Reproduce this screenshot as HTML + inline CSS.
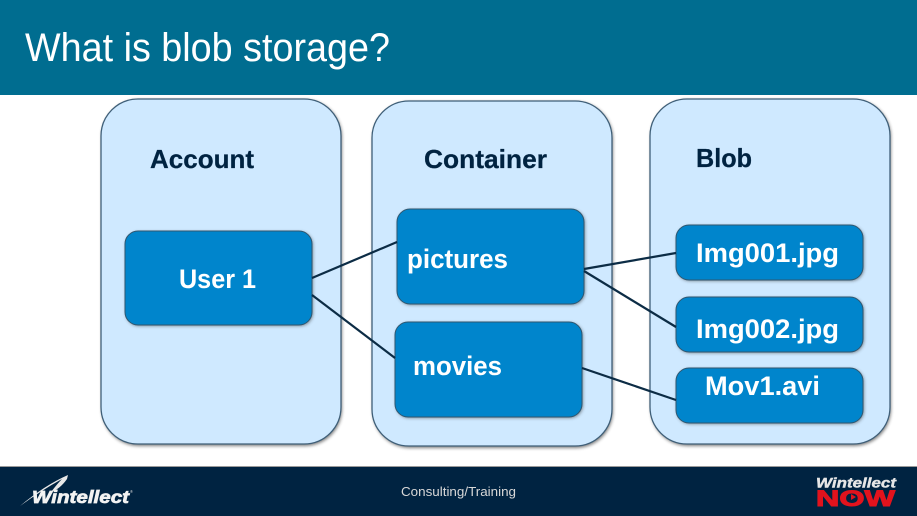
<!DOCTYPE html>
<html>
<head>
<meta charset="utf-8">
<style>
html,body{margin:0;padding:0;background:#fff;width:917px;height:516px;overflow:hidden}
svg{display:block}
text{font-family:"Liberation Sans",sans-serif}
.h{font-size:26px;font-weight:bold;fill:#002341;stroke:#002341;stroke-width:.25}
.w{font-size:27px;font-weight:bold;fill:#fff}
</style>
</head>
<body>
<svg width="917" height="516" viewBox="0 0 917 516" xmlns="http://www.w3.org/2000/svg">
<defs>
<filter id="s" x="-10%" y="-10%" width="120%" height="120%">
<feGaussianBlur stdDeviation="1.5"/>
</filter>
</defs>
<rect width="917" height="516" fill="#fff"/>
<rect x="0" y="0" width="917" height="95" fill="#006d90"/>
<text x="25" y="61" font-size="40" fill="#fff" textLength="365" lengthAdjust="spacingAndGlyphs">What is blob storage?</text>

<!-- shadows -->
<g fill="#444" opacity=".7" filter="url(#s)">
<rect x="102" y="100" width="240" height="346" rx="37"/>
<rect x="373" y="102" width="240" height="346" rx="37"/>
<rect x="651" y="100" width="240" height="346" rx="37"/>
</g>
<!-- panels -->
<g fill="#cfe9ff" stroke="#3f5f78" stroke-width="1.3">
<rect x="101" y="99" width="240" height="345" rx="37"/>
<rect x="372" y="101" width="240" height="345" rx="37"/>
<rect x="650" y="99" width="240" height="345" rx="37"/>
</g>

<text class="h" x="150" y="168" textLength="104" lengthAdjust="spacingAndGlyphs">Account</text>
<text class="h" x="424" y="168" textLength="123" lengthAdjust="spacingAndGlyphs">Container</text>
<text class="h" x="696" y="167" textLength="56" lengthAdjust="spacingAndGlyphs">Blob</text>

<!-- box shadows -->
<g fill="#333" opacity=".55" filter="url(#s)">
<rect x="126" y="232" width="187" height="94" rx="13"/>
<rect x="398" y="210" width="187" height="95" rx="13"/>
<rect x="396" y="323" width="187" height="95" rx="13"/>
<rect x="677" y="226" width="187" height="55" rx="13"/>
<rect x="677" y="298" width="187" height="55" rx="13"/>
<rect x="677" y="369" width="187" height="55" rx="13"/>
</g>
<!-- boxes -->
<g fill="#0085cc" stroke="#2f566f" stroke-width="1">
<rect x="125" y="231" width="187" height="94" rx="13"/>
<rect x="397" y="209" width="187" height="95" rx="13"/>
<rect x="395" y="322" width="187" height="95" rx="13"/>
<rect x="676" y="225" width="187" height="55" rx="13"/>
<rect x="676" y="297" width="187" height="55" rx="13"/>
<rect x="676" y="368" width="187" height="55" rx="13"/>
</g>

<!-- connectors -->
<g stroke="#0c2c45" stroke-width="2.2" fill="none">
<line x1="312" y1="278" x2="397" y2="242"/>
<line x1="312" y1="295" x2="395" y2="358"/>
<line x1="584" y1="269" x2="676" y2="253"/>
<line x1="584" y1="271" x2="676" y2="327"/>
<line x1="582" y1="368" x2="676" y2="400"/>
</g>

<text class="w" x="179" y="288" textLength="77" lengthAdjust="spacingAndGlyphs">User 1</text>
<text class="w" x="407" y="268" textLength="101" lengthAdjust="spacingAndGlyphs">pictures</text>
<text class="w" x="413" y="375" textLength="89" lengthAdjust="spacingAndGlyphs">movies</text>
<text class="w" x="696" y="262" textLength="143" lengthAdjust="spacingAndGlyphs">Img001.jpg</text>
<text class="w" x="696" y="338" textLength="143" lengthAdjust="spacingAndGlyphs">Img002.jpg</text>
<text class="w" x="705" y="395" textLength="115" lengthAdjust="spacingAndGlyphs">Mov1.avi</text>

<!-- footer -->
<rect x="0" y="466" width="917" height="1.5" fill="#9a9a9a"/>
<rect x="0" y="467" width="917" height="49" fill="#002341"/>
<text x="401" y="496" font-size="12.5" fill="#d8d8d8" textLength="115" lengthAdjust="spacingAndGlyphs">Consulting/Training</text>

<!-- Wintellect logo -->
<path d="M20 506 Q45 485 68 475 L67 479 Q60 489 51 492 Q58 483 62 479 Q42 490 20 506Z" fill="#e8e8e8"/>
<text x="32" y="503" font-size="17.5" font-weight="bold" font-style="italic" fill="#f2f2f2" stroke="#f2f2f2" stroke-width=".7" textLength="97" lengthAdjust="spacingAndGlyphs">Wintellect</text>
<text x="130" y="493" font-size="4" fill="#ddd">®</text>

<!-- Wintellect NOW logo -->
<text x="816" y="487.5" font-size="14" font-weight="bold" font-style="italic" fill="#e6e6e6" stroke="#e6e6e6" stroke-width=".4" textLength="80" lengthAdjust="spacingAndGlyphs">Wintellect</text>
<text x="816" y="506" font-size="22" font-weight="bold" fill="#e2131d" stroke="#e2131d" stroke-width="1" textLength="79" lengthAdjust="spacingAndGlyphs">NOW</text>
<polygon points="851,494 851,500 856,497" fill="#e2131d"/>
</svg>
</body>
</html>
